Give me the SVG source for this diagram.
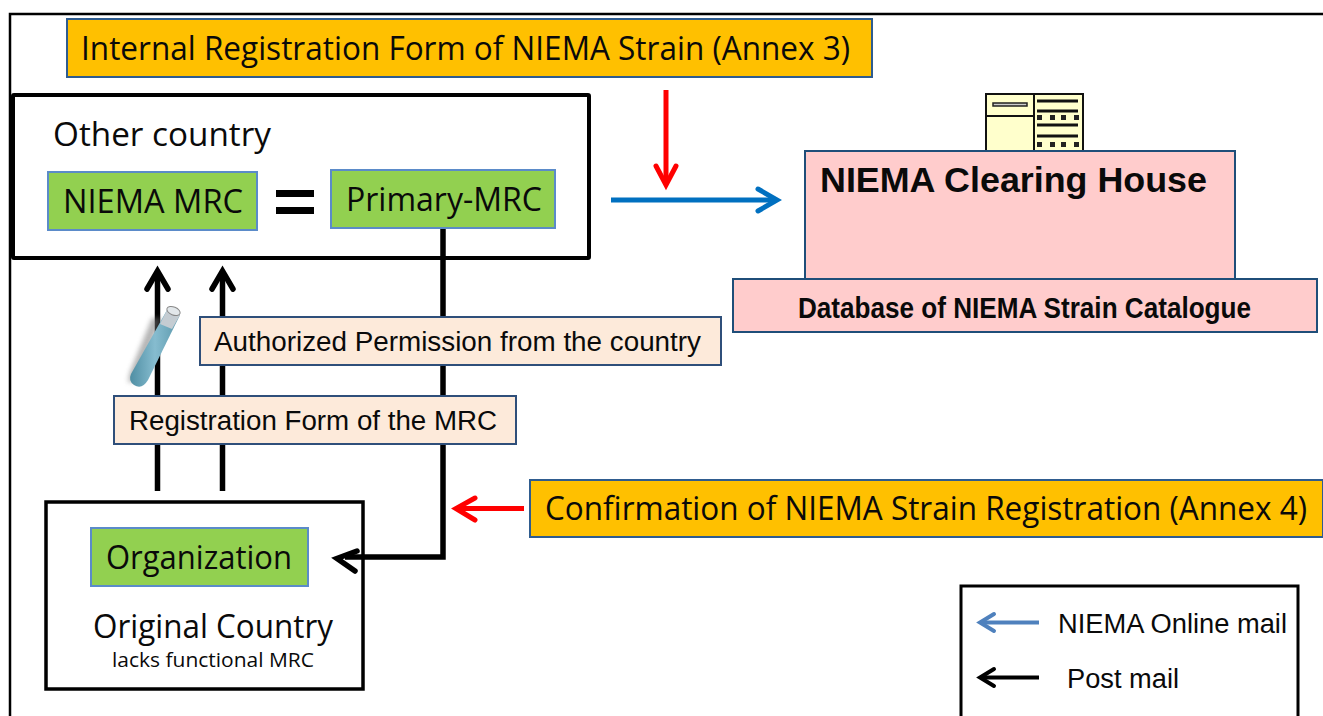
<svg xmlns="http://www.w3.org/2000/svg" width="1323" height="716" viewBox="0 0 1323 716">
<style>
text{font-family:"Open Sans","Noto Sans","Liberation Sans",sans-serif;fill:#0a0a0a}
.a{font-family:"Liberation Sans",Arial,sans-serif}
.or{fill:#ffc000;stroke:#2f5c8f;stroke-width:2}
.gr{fill:#92d050;stroke:#5b8bc9;stroke-width:2}
.pe{fill:#fdeada;stroke:#2f4f7a;stroke-width:2}
.pk{fill:#ffcccc;stroke:#1f4e79;stroke-width:2}
.k{fill:none;stroke:#000;stroke-width:5.5}
.ah{fill:none;stroke:#000;stroke-width:5.5;stroke-linecap:round;stroke-miterlimit:8}
.rd{fill:none;stroke:#ff0000;stroke-width:5;stroke-linecap:butt}
.rh{fill:none;stroke:#ff0000;stroke-width:5;stroke-linecap:round;stroke-miterlimit:8}
.db{fill:none;stroke:#111;stroke-width:2}
.dk{fill:#222}
</style>
<defs>
<linearGradient id="tube" x1="0" x2="1" y1="0" y2="0"><stop offset="0" stop-color="#4f8ea3"/><stop offset=".5" stop-color="#86bccf"/><stop offset="1" stop-color="#5a97ab"/></linearGradient>
<filter id="blur" x="-50%" y="-20%" width="200%" height="140%"><feGaussianBlur stdDeviation="2.5"/></filter>
</defs>
<rect width="1323" height="716" fill="#fff"/>
<path d="M10 716V14H1323" fill="none" stroke="#000" stroke-width="2.5"/>

<g id="connectors">
<path class="k" d="M157.500 491V274M222.500 491V274"/>
<path class="ah" d="M147 289L157.500 271L168 289M212 289L222.500 271L233 289"/>
<path class="k" d="M443 228V557H345"/>
<path class="ah" d="M357 551L337 558.500L355 571"/>
<path fill="none" stroke="#0070c0" stroke-width="5" d="M611 200H774"/>
<path fill="none" stroke="#0070c0" stroke-width="5" stroke-linecap="round" stroke-miterlimit="8" d="M758 189L777 200L758 211"/>
<path class="rd" d="M666 90V184"/>
<path class="rh" d="M656 166L666 185L676 166"/>
<path class="rd" d="M524 508.500H460"/>
<path class="rh" d="M475 498L456 508.500L475 520"/>
</g>

<g id="other-country">
<rect x="13" y="95" width="576" height="163" rx="1" fill="none" stroke="#000" stroke-width="4"/>
<text x="53" y="146" font-size="32" textLength="218" lengthAdjust="spacingAndGlyphs">Other country</text>
</g>
<g id="niema-mrc">
<rect class="gr" x="48" y="172" width="209" height="58"/>
<text x="63" y="213" font-size="32" textLength="180" lengthAdjust="spacingAndGlyphs">NIEMA MRC</text>
</g>
<rect x="276" y="190" width="38" height="7" fill="#000"/>
<rect x="276" y="207" width="38" height="7" fill="#000"/>
<g id="primary-mrc">
<rect class="gr" x="331" y="170" width="224" height="58"/>
<text x="346" y="211" font-size="32" textLength="196" lengthAdjust="spacingAndGlyphs">Primary-MRC</text>
</g>

<g id="internal-form">
<rect class="or" x="67" y="19" width="805" height="58"/>
<text x="81" y="60" font-size="32" textLength="769" lengthAdjust="spacingAndGlyphs">Internal Registration Form of NIEMA Strain (Annex 3)</text>
</g>

<g id="database-icon">
<rect x="986" y="94" width="97" height="57" fill="#ffffcc" stroke="#111" stroke-width="2"/>
<path class="db" d="M1034 94V151M986 116H1034"/>
<rect x="993" y="103" width="34" height="3" fill="#ccc" stroke="#222" stroke-width="1.500"/>
<path stroke="#111" stroke-width="3" d="M1037 101H1078M1037 111H1078M1037 125H1078M1037 136H1078"/>
<path class="dk" d="M1037 115h5v5h-5zM1050 115h5v5h-5zM1061 115h5v5h-5zM1074 115h5v5h-5zM1037 142h5v5h-5zM1050 142h5v5h-5zM1061 142h5v5h-5zM1074 142h5v5h-5z"/>
</g>
<g id="clearing-house">
<rect class="pk" x="805" y="151" width="430" height="128"/>
<text x="820" y="192" font-size="35" font-weight="700" class="a" textLength="387" lengthAdjust="spacingAndGlyphs">NIEMA Clearing House</text>
</g>
<g id="catalogue">
<rect class="pk" x="733" y="279" width="584" height="53"/>
<text x="798" y="318" font-size="29" font-weight="700" class="a" textLength="453" lengthAdjust="spacingAndGlyphs">Database of NIEMA Strain Catalogue</text>
</g>

<g id="test-tube">
<path d="M162 318L140 372Q136 384 128 382L130 372L152 318Z" fill="#777" opacity=".55" filter="url(#blur)"/>
<path d="M167 310L180 315L148 380Q142 390 134 385Q128 381 131 374Z" fill="url(#tube)"/>
<path d="M167 310L180 315L172 329L160 324Z" fill="#c4ccd2"/>
<ellipse cx="173.500" cy="311" rx="7" ry="4" fill="#e2e7ea" stroke="#888" transform="rotate(22 173.500 311)"/>
</g>

<g id="authorized">
<rect class="pe" x="200" y="317" width="521" height="48"/>
<text x="214" y="351" font-size="27" class="a" textLength="487" lengthAdjust="spacingAndGlyphs">Authorized Permission from the country</text>
</g>
<g id="registration">
<rect class="pe" x="114" y="396" width="402" height="48"/>
<text x="129" y="430" font-size="27" class="a" textLength="368" lengthAdjust="spacingAndGlyphs">Registration Form of the MRC</text>
</g>

<g id="confirmation">
<rect class="or" x="530" y="480" width="793" height="57"/>
<text x="545" y="520" font-size="32" textLength="762" lengthAdjust="spacingAndGlyphs">Confirmation of NIEMA Strain Registration (Annex 4)</text>
</g>

<g id="original-country">
<rect x="46" y="502" width="317" height="187" fill="none" stroke="#000" stroke-width="3.500"/>
<text x="93" y="638" font-size="32" textLength="240" lengthAdjust="spacingAndGlyphs">Original Country</text>
<text x="112" y="667" font-size="20" textLength="202" lengthAdjust="spacingAndGlyphs">lacks functional MRC</text>
</g>
<g id="organization">
<rect class="gr" x="91" y="528" width="217" height="58"/>
<text x="106" y="569" font-size="32" textLength="186" lengthAdjust="spacingAndGlyphs">Organization</text>
</g>

<g id="legend">
<path d="M961 716V586H1298V716" fill="none" stroke="#000" stroke-width="3"/>
<path fill="none" stroke="#4f81bd" stroke-width="4" d="M1039 622.500H982"/>
<path fill="none" stroke="#4f81bd" stroke-width="4" stroke-linecap="round" d="M994 614L980 622.500L994 631"/>
<path fill="none" stroke="#000" stroke-width="4" d="M1039 677.500H982"/>
<path fill="none" stroke="#000" stroke-width="4" stroke-linecap="round" d="M994 669L980 677.500L994 686"/>
<text x="1058" y="633" font-size="27" class="a" textLength="229" lengthAdjust="spacingAndGlyphs">NIEMA Online mail</text>
<text x="1067" y="688" font-size="27" class="a" textLength="112" lengthAdjust="spacingAndGlyphs">Post mail</text>
</g>
</svg>
